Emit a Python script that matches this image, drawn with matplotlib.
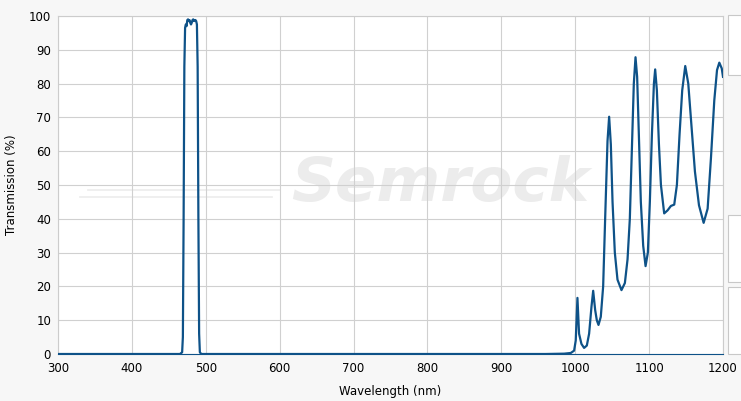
import matplotlib
matplotlib.use("Agg")
import matplotlib.pyplot as plt
from matplotlib.patches import Rectangle

# wavelength (nm) / transmission (%)
wavelength = [300, 465, 468, 469, 470, 471, 472, 473, 474, 475, 476, 477, 478, 479,
              480, 481, 482, 483, 484, 485, 486, 487, 488, 489, 490, 491, 492, 494,
              960, 985, 994, 998.5, 1000.7, 1003, 1005.2, 1008.4, 1012, 1015.7,
              1018.8, 1022, 1024.3, 1027, 1029.2, 1031.5, 1034.6, 1037.8, 1040.5,
              1043.7, 1045.9, 1048.2, 1050.5, 1053.6, 1057.2, 1062.6, 1067.2, 1070.8,
              1073.9, 1076.6, 1079.3, 1081.6, 1083.8, 1086.1, 1088.8, 1092, 1095.2,
              1098.3, 1101, 1103.8, 1106.5, 1108.2, 1110.5, 1113.3, 1116, 1120.4,
              1125, 1129.5, 1134, 1137.6, 1141.2, 1144.8, 1148.9, 1153, 1157.5, 1162,
              1167.5, 1173.8, 1179.2, 1183.7, 1188.2, 1191.9, 1195, 1198.3, 1200]
transmission = [0, 0, 0.5, 5, 40, 85, 96.5, 97.5, 97, 98.8, 99, 98.5, 98.8, 98,
                97.5, 98, 98.8, 99, 98.5, 98.8, 98.8, 98.5, 97.5, 85, 40, 6, 0.5, 0,
                0, 0.1, 0.3, 1.0, 4, 16.6, 6, 3, 1.8, 2.5,
                6, 14, 18.7, 13, 10, 8.6, 11, 20, 40,
                63, 70.2, 62, 45, 30, 22, 18.9, 21, 28,
                40, 60, 80, 87.8, 82, 65, 45, 32, 26,
                30, 45, 65, 80, 84.2, 78, 62, 50, 41.6,
                42.5, 43.8, 44.2, 50, 65, 78, 85.2, 80, 67, 54,
                44, 38.8, 43, 58, 75, 84, 86.2, 84.5, 82]

xticks = [300, 400, 500, 600, 700, 800, 900, 1000, 1100, 1200]
yticks = [0, 10, 20, 30, 40, 50, 60, 70, 80, 90, 100]

fig = plt.figure(figsize=(7.41, 4.01), dpi=100, facecolor="#f7f7f7")
ax = fig.add_axes([58 / 741, 1 - 354 / 401, 665 / 741, 338 / 401])
ax.set_facecolor("white")

# watermark
ax.text(0.575, 0.50, "Semrock", transform=ax.transAxes, fontsize=44,
        fontstyle="italic", fontweight="bold", color="#ececec",
        ha="center", va="center", zorder=0)
ax.plot([340, 600], [48.5, 48.5], color="#ececec", lw=1.2, zorder=0)
ax.plot([330, 590], [46.5, 46.5], color="#ececec", lw=1.2, zorder=0)

ax.plot(wavelength, transmission, color="#0e5288", lw=1.6, zorder=3)

ax.set_xlim(300, 1200)
ax.set_ylim(0, 100)
ax.set_xticks(xticks)
ax.set_yticks(yticks)
ax.grid(True, color="#d0d0d0", lw=0.8)
ax.set_axisbelow(True)
ax.tick_params(length=0, labelsize=8.5)
ax.tick_params(axis="x", pad=6)
ax.tick_params(axis="y", pad=5)
for s in ax.spines.values():
    s.set_color("#cccccc")
    s.set_linewidth(0.8)
ax.spines["bottom"].set_color("#0e5288")

ax.set_xlabel("Wavelength (nm)", fontsize=8.5, labelpad=7)
ax.set_ylabel("Transmission (%)", fontsize=8.5, labelpad=8)

# side panel boxes
for y0, y1 in [(15, 75), (215, 282), (287, 354)]:
    fig.patches.append(Rectangle((728 / 741, 1 - y1 / 401), 20 / 741, (y1 - y0) / 401,
                                 transform=fig.transFigure, facecolor="white",
                                 edgecolor="#c8c8c8", lw=0.8))

fig.savefig("out.png", dpi=100, facecolor=fig.get_facecolor())
